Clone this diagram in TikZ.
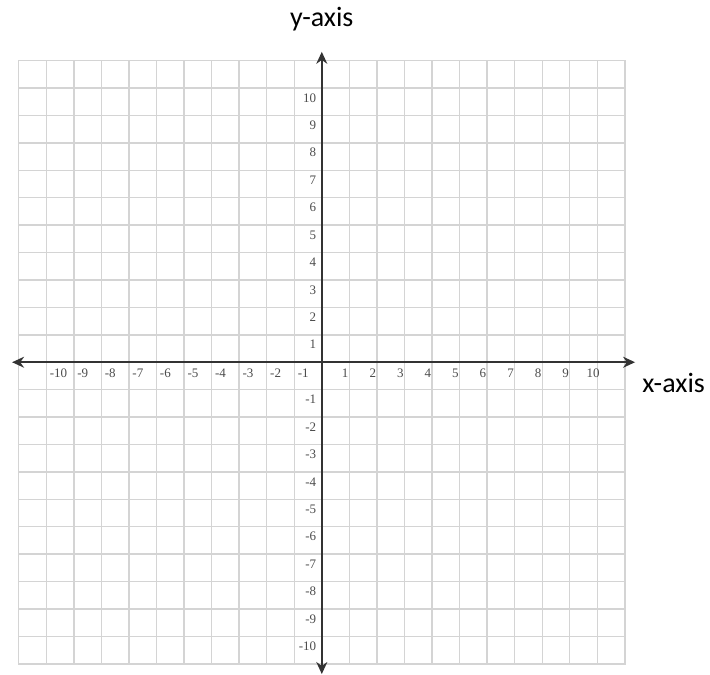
\documentclass[tikz,border=0pt]{standalone}
\usepackage{fontspec}
\setmainfont{Liberation Serif}
\newfontfamily\labelfont{Carlito}
\usepackage{tikz}
\usetikzlibrary{arrows.meta}

\begin{document}
\begin{tikzpicture}[x=27.55pt, y=27.42pt,
  gridline/.style={draw=black!17, line width=1.4pt},
  axisline/.style={draw=black!80, line width=1.6pt, {Stealth[length=12pt,width=11pt]}-{Stealth[length=12pt,width=11pt]}},
  ticklabel/.style={font=\fontsize{13}{14}\selectfont, text=black!70, inner sep=0pt},
  axislabel/.style={font=\labelfont\fontsize{28}{30}\selectfont, inner sep=0pt}]
\useasboundingbox (-11.68,-11.40) rectangle (14.09,13.21);
% Grid
\draw[gridline, step=1] (-11,-11) grid (11,11);
\draw[gridline] (-11,-11) rectangle (11,11);
% Axes
\coordinate (xleft) at (-11.24,0);
\coordinate (xright) at (11.37,0);
\coordinate (ybottom) at (0,-11.37);
\coordinate (ytop) at (0,11.32);
\draw[axisline] (xleft) -- (xright);
\draw[axisline] (ybottom) -- (ytop);
% Tick numbers on the x-axis
\foreach \i in {1,...,10} {
  \node[ticklabel, anchor=west] (xneg\i) at (-\i+0.12,-0.39) {-\i};
  \node[ticklabel] (xpos\i) at (\i-0.15,-0.39) {\i};
}
% Tick numbers on the y-axis
\foreach \i in {1,...,10} {
  \node[ticklabel, anchor=east] (ypos\i) at (-0.2,\i-0.36) {\i};
  \node[ticklabel, anchor=east] (yneg\i) at (-0.2,-\i-0.36) {-\i};
}
% Axis names
\node[axislabel, anchor=base] (ylabel) at (0,12.23) {y-axis};
\node[axislabel, anchor=base west] (xlabel) at (11.63,-1.12) {x-axis};
\end{tikzpicture}
\end{document}
